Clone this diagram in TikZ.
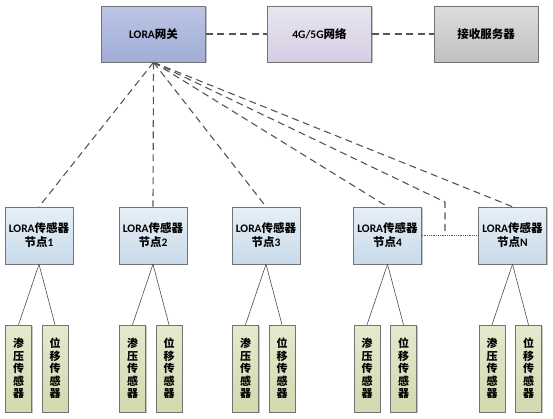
\documentclass[tikz,border=0pt]{standalone}
\usepackage{fontspec}
\setmainfont{Carlito}
\newfontfamily\cjk{Noto Sans CJK SC}
\newcommand{\zh}[1]{{\cjk #1}}
\usetikzlibrary{shadows,positioning}
\definecolor{gwtop}{HTML}{BCC5E4}
\definecolor{gwbot}{HTML}{A1ADD7}
\definecolor{nettop}{HTML}{E9E5F1}
\definecolor{netbot}{HTML}{D5CEE3}
\definecolor{srvtop}{HTML}{DCDCDC}
\definecolor{srvbot}{HTML}{C0C0C0}
\definecolor{ndtop}{HTML}{E7EFF7}
\definecolor{ndbot}{HTML}{C9DAEA}
\definecolor{sntop}{HTML}{E6E9CE}
\definecolor{snbot}{HTML}{D3D8AE}
\definecolor{linegray}{HTML}{555555}

\begin{document}
\begin{tikzpicture}[x=1pt,y=-1pt,
	font=\bfseries\fontsize{11.5}{14}\selectfont,
	box/.style={draw=black!55, line width=0.6pt, inner sep=1pt, align=center,
		drop shadow={shadow xshift=1.2pt,shadow yshift=-1.2pt,fill=black!45}},
	topbox/.style={box, minimum width=104pt, minimum height=56pt},
	nodebox/.style={box, minimum width=68pt, minimum height=57pt, top color=ndtop, bottom color=ndbot},
	sensorbox/.style={box, minimum width=26pt, minimum height=87pt, top color=sntop, bottom color=snbot,
		font=\cjk\bfseries\fontsize{11}{12.5}\selectfont},
	link/.style={linegray, line width=1.1pt, dash pattern=on 7pt off 4.5pt},
	wire/.style={black!70, line width=0.6pt}
	]
	\useasboundingbox (0,0) rectangle (553,418);
	% top row
	\node[topbox, top color=gwtop, bottom color=gwbot] (gw) at (153.5,34) {LORA\zh{网关}};
	\node[topbox, top color=nettop, bottom color=netbot] (net) at (319.5,34) {4G/5G\zh{网络}};
	\node[topbox, top color=srvtop, bottom color=srvbot] (srv) at (486,34) {\zh{接收服务器}};
	\draw[link] (gw.east) -- (net.west);
	\draw[link] (net.east) -- (srv.west);
	
	% sensor nodes and their sensors
	\foreach \i/\x in {1/39,2/153,3/266,4/387.5,N/512.5}{
		\node[nodebox] (n\i) at (\x,235.5) {LORA\zh{传感器}\\\zh{节点}\i};
		\node[sensorbox] (s\i a) at (\x-20.5,368.5) {渗\\压\\传\\感\\器};
		\node[sensorbox] (s\i b) at (\x+16,368.5) {位\\移\\传\\感\\器};
		\draw[wire] (n\i.south) -- (s\i a.north);
		\draw[wire] (n\i.south) -- (s\i b.north);
	}
	
	% links from gateway
	\foreach \i in {1,2,3,4,N}
		\draw[link] (gw.south) -- (n\i.north);
	\coordinate (bend) at (445,202);
	\coordinate (join) at (445,235.5);
	\draw[link] (gw.south) -- (bend) -- (join);
	\draw[linegray, densely dotted, line width=0.8pt] (n4.east) -- (nN.west);
\end{tikzpicture}
\end{document}
